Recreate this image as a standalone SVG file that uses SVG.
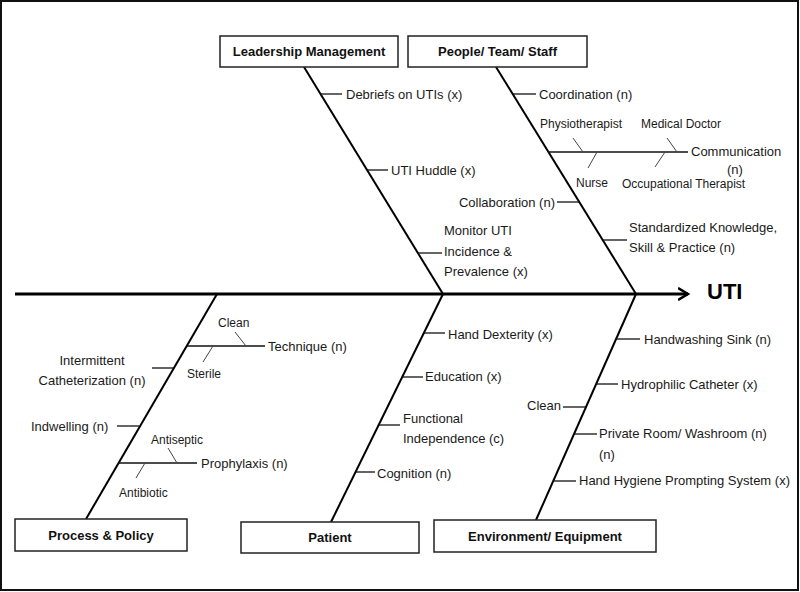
<svg xmlns="http://www.w3.org/2000/svg" width="800" height="592" viewBox="0 0 800 592">
<defs>
<style>
.frame{fill:#fff;stroke:#111;stroke-width:2}
.box{fill:#fff;stroke:#222;stroke-width:1.5}
.bt{font-family:"Liberation Sans",Arial,sans-serif;font-size:13px;font-weight:bold;fill:#111;text-anchor:middle}
.t{font-family:"Liberation Sans",Arial,sans-serif;font-size:13px;fill:#1a1a1a}
.s{font-family:"Liberation Sans",Arial,sans-serif;font-size:12px;fill:#1a1a1a}
.e{text-anchor:end}
.m{text-anchor:middle}
.spine{stroke:#000;stroke-width:3;fill:none}
.bone{stroke:#000;stroke-width:2;fill:none}
.tick{stroke:#111;stroke-width:1.3;fill:none}
.sub{stroke:#444;stroke-width:1;fill:none}
.head{font-family:"Liberation Sans",Arial,sans-serif;font-size:22px;font-weight:bold;fill:#000}
</style>
<marker id="arr" markerWidth="12" markerHeight="14" refX="10" refY="7" orient="auto" markerUnits="userSpaceOnUse">
<path d="M0,1 L10,7 L0,13" fill="none" stroke="#000" stroke-width="2.5"/>
</marker>
</defs>
<rect class="frame" x="1" y="1" width="797" height="589"/>

<g id="connectors">
<line class="spine" x1="15" y1="294" x2="688" y2="294" marker-end="url(#arr)"/>
<line class="bone" x1="304" y1="67" x2="443" y2="294"/>
<line class="bone" x1="496" y1="67" x2="636" y2="294"/>
<line class="bone" x1="217" y1="294" x2="86" y2="519"/>
<line class="bone" x1="443" y1="294" x2="331" y2="522"/>
<line class="bone" x1="636" y1="294" x2="536" y2="520"/>
</g>

<g id="effect-uti"><text class="head" x="707" y="299">UTI</text></g>

<g id="cat-leadership">
<rect class="box" x="220" y="36" width="178" height="31"/>
<text class="bt" x="309" y="56">Leadership Management</text>
</g>
<g id="cat-people">
<rect class="box" x="408" y="36" width="179" height="31"/>
<text class="bt" x="497.5" y="56">People/ Team/ Staff</text>
</g>
<g id="cat-process">
<rect class="box" x="15" y="519" width="172" height="32"/>
<text class="bt" x="101" y="540">Process &amp; Policy</text>
</g>
<g id="cat-patient">
<rect class="box" x="241" y="522" width="178" height="31"/>
<text class="bt" x="330" y="542">Patient</text>
</g>
<g id="cat-environment">
<rect class="box" x="434" y="520" width="222" height="32"/>
<text class="bt" x="545" y="541">Environment/ Equipment</text>
</g>

<g id="c-debriefs"><line class="tick" x1="321" y1="94" x2="342" y2="94"/><text class="t" x="346" y="98.5">Debriefs on UTIs (x)</text></g>
<g id="c-huddle"><line class="tick" x1="367" y1="170" x2="388" y2="170"/><text class="t" x="391" y="174.5">UTI Huddle (x)</text></g>
<g id="c-monitor"><line class="tick" x1="418" y1="253" x2="442" y2="253"/>
<text class="t" x="444" y="234.5">Monitor UTI</text><text class="t" x="444" y="255.5">Incidence &amp;</text><text class="t" x="444" y="275.5">Prevalence (x)</text></g>

<g id="c-coordination"><line class="tick" x1="513" y1="94" x2="536" y2="94"/><text class="t" x="539" y="98.5">Coordination (n)</text></g>
<g id="c-communication">
<line class="tick" x1="548" y1="152" x2="688" y2="152"/>
<line class="sub" x1="573" y1="138" x2="583" y2="152"/>
<line class="sub" x1="667" y1="138" x2="677" y2="152"/>
<line class="sub" x1="597" y1="152" x2="588" y2="168"/>
<line class="sub" x1="665" y1="152" x2="655" y2="167"/>
<text class="t" x="691" y="155.5">Communication</text><text class="t" x="727" y="173.5">(n)</text>
<text class="s" x="540" y="127.5">Physiotherapist</text>
<text class="s" x="641" y="127.5">Medical Doctor</text>
<text class="s" x="576" y="186.5">Nurse</text>
<text class="s" x="622" y="187.5">Occupational Therapist</text>
</g>
<g id="c-collaboration"><line class="tick" x1="557" y1="202" x2="579" y2="202"/><text class="t e" x="555" y="206.5">Collaboration (n)</text></g>
<g id="c-standardized"><line class="tick" x1="603" y1="240" x2="627" y2="240"/>
<text class="t" x="629" y="231.5">Standardized Knowledge,</text><text class="t" x="629" y="251.5">Skill &amp; Practice (n)</text></g>

<g id="c-technique">
<line class="tick" x1="187" y1="346" x2="265" y2="346"/>
<line class="sub" x1="235" y1="332" x2="246" y2="346"/>
<line class="sub" x1="213" y1="346" x2="203" y2="362"/>
<text class="t" x="268" y="350.5">Technique (n)</text>
<text class="s" x="218" y="326.5">Clean</text>
<text class="s" x="187" y="377.5">Sterile</text>
</g>
<g id="c-intermittent"><line class="tick" x1="152" y1="368" x2="173" y2="368"/>
<text class="t m" x="92" y="364.5">Intermittent</text><text class="t m" x="92" y="384.5">Catheterization (n)</text></g>
<g id="c-indwelling"><line class="tick" x1="117" y1="426" x2="139" y2="426"/><text class="t" x="31" y="430.5">Indwelling (n)</text></g>
<g id="c-prophylaxis">
<line class="tick" x1="118" y1="463" x2="197" y2="463"/>
<line class="sub" x1="168" y1="448" x2="177" y2="463"/>
<line class="sub" x1="145" y1="463" x2="136" y2="478"/>
<text class="t" x="201" y="467.5">Prophylaxis (n)</text>
<text class="s" x="151" y="443.5">Antiseptic</text>
<text class="s" x="119" y="496.5">Antibiotic</text>
</g>

<g id="c-dexterity"><line class="tick" x1="424" y1="333" x2="445" y2="333"/><text class="t" x="448" y="338.5">Hand Dexterity (x)</text></g>
<g id="c-education"><line class="tick" x1="402" y1="377" x2="423" y2="377"/><text class="t" x="425" y="380.5">Education (x)</text></g>
<g id="c-functional"><line class="tick" x1="379" y1="425" x2="400" y2="425"/>
<text class="t" x="403" y="422.5">Functional</text><text class="t" x="403" y="442.5">Independence (c)</text></g>
<g id="c-cognition"><line class="tick" x1="356" y1="472" x2="375" y2="472"/><text class="t" x="377" y="477.5">Cognition (n)</text></g>

<g id="c-sink"><line class="tick" x1="616" y1="339" x2="640" y2="339"/><text class="t" x="644" y="343.5">Handwashing Sink (n)</text></g>
<g id="c-hydrophilic"><line class="tick" x1="596" y1="384" x2="618" y2="384"/><text class="t" x="621" y="388.5">Hydrophilic Catheter (x)</text></g>
<g id="c-clean"><line class="tick" x1="563" y1="407" x2="586" y2="407"/><text class="t e" x="561" y="409.5">Clean</text></g>
<g id="c-private"><line class="tick" x1="574" y1="434" x2="597" y2="434"/>
<text class="t" x="599" y="437.5">Private Room/ Washroom (n)</text><text class="t" x="599" y="458.5">(n)</text></g>
<g id="c-hygiene"><line class="tick" x1="553" y1="481" x2="576" y2="481"/><text class="t" x="579" y="484.5">Hand Hygiene Prompting System (x)</text></g>
</svg>
